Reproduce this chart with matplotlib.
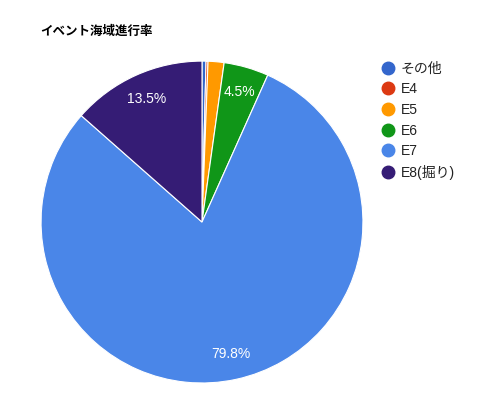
import matplotlib
matplotlib.use("Agg")
import matplotlib.pyplot as plt
from matplotlib.lines import Line2D

plt.rcParams['font.family'] = ['Liberation Sans', 'Noto Sans CJK JP', 'DejaVu Sans']

title = "イベント海域進行率"
categories = ["その他", "E4", "E5", "E6", "E7", "E8(掘り)"]
values = [0.4, 0.2, 1.6, 4.5, 79.8, 13.5]
colors = ["#3366cc", "#dc3912", "#ff9900", "#109618", "#4a86e8", "#351c75"]

fig = plt.figure(figsize=(5.0, 4.09), dpi=100)
ax = fig.add_axes([0.082, 0.0636, 0.644, 0.787])

def fmt(p):
    return f"{p:.1f}%" if p >= 4 else ""

wedges, texts, autotexts = ax.pie(
    values, colors=colors, startangle=90, counterclock=False,
    autopct=fmt, pctdistance=0.84, radius=1.0,
    wedgeprops=dict(edgecolor="white", linewidth=0.8),
    textprops=dict(color="white", fontsize=10))
ax.set_xlim(-1, 1)
ax.set_ylim(-1, 1)
ax.set_aspect('equal')
ax.axis('off')

fig.text(40/500, 1 - 31/409, title, fontsize=9, fontweight='bold',
         va='center', ha='left', color='#000000',
         family=['Noto Sans CJK JP', 'DejaVu Sans'])

handles = [Line2D([0], [0], marker='o', linestyle='', markersize=9,
                  markerfacecolor=c, markeredgecolor=c) for c in colors]
leg = fig.legend(handles, categories, loc='upper left',
                 bbox_to_anchor=(374/500, 1 - 56/409), frameon=False,
                 fontsize=10, handletextpad=0.3, labelspacing=0.48,
                 handlelength=1.2, borderaxespad=0)
for t in leg.get_texts():
    t.set_color('#222222')

fig.savefig("out.png", dpi=100, facecolor='white')
